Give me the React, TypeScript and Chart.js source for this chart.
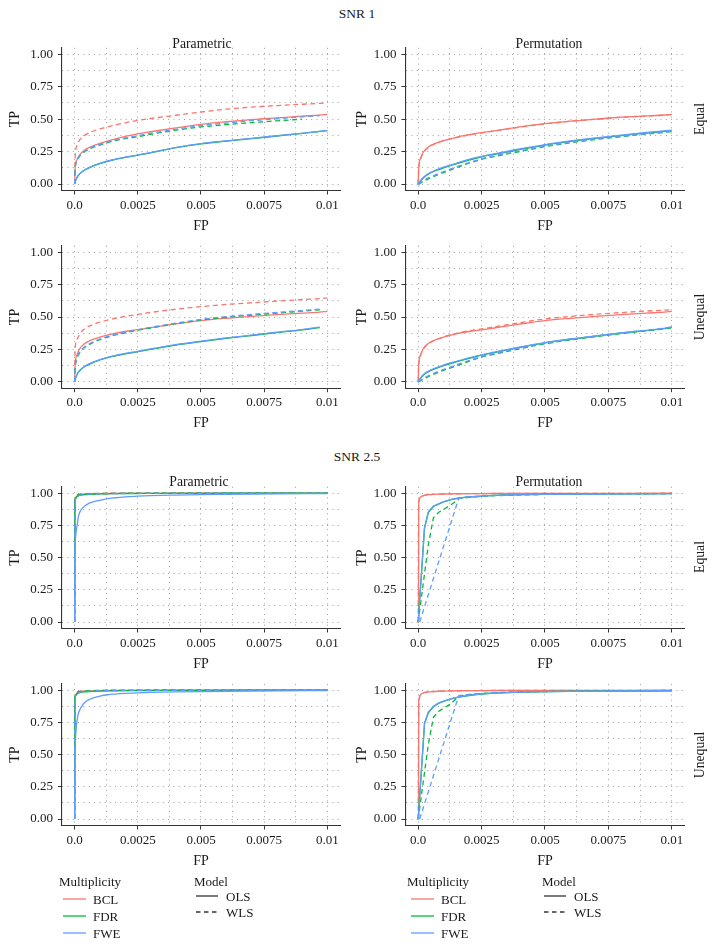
import React, { useEffect, useRef } from 'react';
import { Chart, registerables } from 'chart.js';

Chart.register(...registerables);

const FONT = '"Liberation Serif", "DejaVu Serif", serif';
const TEXT = '#1a1a1a';

// ---------- categories ----------
const MULTIPLICITY = ['BCL', 'FDR', 'FWE'];
const MODELS = ['OLS', 'WLS'];
const MULT_COLORS = ['#F8766D', '#00BA38', '#619CFF'];

// ---------- ticks ----------
const X_TICKS = [0, 0.00125, 0.0025, 0.00375, 0.005, 0.00625, 0.0075, 0.00875, 0.01];
const X_TICK_LABELS = ['0.0', '', '0.0025', '', '0.005', '', '0.0075', '', '0.01'];
const Y_TICKS = [0, 0.125, 0.25, 0.375, 0.5, 0.625, 0.75, 0.875, 1];
const Y_TICK_LABELS = ['0.00', '', '0.25', '', '0.50', '', '0.75', '', '1.00'];

// ---------- SNR 1 data (FP grid + TP per curve) ----------
const FP_SNR1 = [0, 0.00002, 0.0001, 0.0002, 0.0004, 0.0007, 0.001, 0.0015, 0.002, 0.0025, 0.003, 0.004, 0.005, 0.006, 0.007, 0.008, 0.009, 0.0097, 0.01];

const S1_PAR_EQ_BCL_OLS = [0, 0.12, 0.19, 0.225, 0.262, 0.292, 0.313, 0.343, 0.367, 0.387, 0.403, 0.433, 0.46, 0.48, 0.497, 0.51, 0.523, 0.531, 0.536];
const S1_PAR_EQ_BCL_WLS = [0, 0.2, 0.3, 0.34, 0.375, 0.405, 0.425, 0.45, 0.472, 0.49, 0.505, 0.53, 0.555, 0.577, 0.593, 0.605, 0.615, 0.622, 0.626];
const S1_PAR_EQ_FDR_OLS = [0, 0.015, 0.052, 0.078, 0.108, 0.136, 0.158, 0.185, 0.205, 0.222, 0.24, 0.28, 0.31, 0.33, 0.35, 0.37, 0.39, 0.405, 0.412];
const S1_PAR_EQ_FDR_WLS = [0, 0.12, 0.18, 0.215, 0.25, 0.28, 0.3, 0.33, 0.35, 0.365, 0.383, 0.415, 0.44, 0.458, 0.473, 0.487, 0.5, null, null];
const S1_PAR_EQ_FWE_OLS = [0, 0.016, 0.054, 0.08, 0.11, 0.138, 0.16, 0.187, 0.207, 0.224, 0.242, 0.281, 0.311, 0.332, 0.352, 0.372, 0.391, 0.406, 0.414];
const S1_PAR_EQ_FWE_WLS = [0, 0.12, 0.185, 0.22, 0.255, 0.285, 0.305, 0.335, 0.355, 0.372, 0.39, 0.422, 0.45, 0.47, 0.488, 0.503, 0.518, 0.528, null];

const S1_PERM_EQ_BCL_OLS = [0, 0.12, 0.2, 0.245, 0.285, 0.315, 0.335, 0.36, 0.38, 0.396, 0.41, 0.44, 0.465, 0.485, 0.5, 0.515, 0.525, 0.532, 0.537];
const S1_PERM_EQ_BCL_WLS = [0, 0.11, 0.195, 0.24, 0.282, 0.313, 0.333, 0.358, 0.378, 0.394, 0.408, 0.438, 0.463, 0.483, 0.499, 0.514, 0.524, 0.531, 0.536];
const S1_PERM_EQ_FDR_OLS = [0, 0.005, 0.025, 0.047, 0.076, 0.104, 0.125, 0.155, 0.185, 0.21, 0.228, 0.265, 0.3, 0.328, 0.352, 0.373, 0.393, 0.405, 0.41];
const S1_PERM_EQ_FDR_WLS = [0, 0, 0.008, 0.02, 0.04, 0.065, 0.088, 0.125, 0.16, 0.19, 0.212, 0.25, 0.288, 0.318, 0.343, 0.365, 0.385, 0.398, 0.405];
const S1_PERM_EQ_FWE_OLS = [0, 0.006, 0.028, 0.05, 0.08, 0.108, 0.13, 0.16, 0.19, 0.213, 0.232, 0.27, 0.304, 0.332, 0.356, 0.377, 0.397, 0.41, 0.415];
const S1_PERM_EQ_FWE_WLS = [0, 0, 0.01, 0.025, 0.047, 0.073, 0.095, 0.132, 0.165, 0.195, 0.217, 0.255, 0.292, 0.322, 0.347, 0.368, 0.388, 0.4, 0.408];

const S1_PAR_UN_BCL_OLS = [0, 0.13, 0.21, 0.255, 0.295, 0.325, 0.345, 0.37, 0.388, 0.402, 0.418, 0.447, 0.472, 0.49, 0.505, 0.518, 0.53, 0.538, 0.544];
const S1_PAR_UN_BCL_WLS = [0, 0.25, 0.33, 0.37, 0.41, 0.44, 0.46, 0.485, 0.505, 0.52, 0.535, 0.56, 0.58, 0.597, 0.61, 0.622, 0.635, 0.642, 0.648];
const S1_PAR_UN_FDR_OLS = [0, 0.018, 0.058, 0.085, 0.117, 0.146, 0.168, 0.195, 0.215, 0.232, 0.25, 0.283, 0.31, 0.335, 0.357, 0.38, 0.4, 0.418, null];
const S1_PAR_UN_FDR_WLS = [0, 0.1, 0.18, 0.225, 0.265, 0.3, 0.325, 0.355, 0.378, 0.398, 0.415, 0.448, 0.477, 0.498, 0.515, 0.53, 0.545, 0.555, null];
const S1_PAR_UN_FWE_OLS = [0, 0.019, 0.06, 0.088, 0.12, 0.149, 0.171, 0.198, 0.218, 0.235, 0.253, 0.286, 0.313, 0.338, 0.36, 0.383, 0.403, 0.422, null];
const S1_PAR_UN_FWE_WLS = [0, 0.1, 0.185, 0.23, 0.27, 0.305, 0.33, 0.36, 0.382, 0.402, 0.42, 0.452, 0.482, 0.503, 0.52, 0.535, 0.55, 0.56, null];

const S1_PERM_UN_BCL_OLS = [0, 0.13, 0.21, 0.255, 0.295, 0.325, 0.345, 0.37, 0.388, 0.4, 0.415, 0.445, 0.472, 0.49, 0.505, 0.518, 0.53, 0.538, 0.543];
const S1_PERM_UN_BCL_WLS = [0, 0.12, 0.205, 0.252, 0.293, 0.325, 0.347, 0.373, 0.393, 0.408, 0.424, 0.456, 0.485, 0.505, 0.521, 0.534, 0.546, 0.553, 0.557];
const S1_PERM_UN_FDR_OLS = [0, 0.006, 0.028, 0.05, 0.077, 0.103, 0.124, 0.153, 0.18, 0.205, 0.225, 0.265, 0.3, 0.328, 0.352, 0.375, 0.395, 0.41, 0.42];
const S1_PERM_UN_FDR_WLS = [0, 0, 0.008, 0.02, 0.04, 0.065, 0.088, 0.122, 0.158, 0.19, 0.212, 0.255, 0.293, 0.323, 0.348, 0.372, 0.393, 0.408, 0.418];
const S1_PERM_UN_FWE_OLS = [0, 0.007, 0.031, 0.054, 0.082, 0.108, 0.129, 0.158, 0.185, 0.208, 0.228, 0.268, 0.302, 0.33, 0.354, 0.377, 0.397, 0.412, 0.423];
const S1_PERM_UN_FWE_WLS = [0, 0, 0.01, 0.025, 0.046, 0.072, 0.095, 0.13, 0.164, 0.195, 0.218, 0.26, 0.298, 0.328, 0.353, 0.377, 0.398, 0.414, 0.424];

// ---------- SNR 2.5 data ----------
const FP_SNR25 = [0, 0.00001, 0.00003, 0.00006, 0.0001, 0.00015, 0.00025, 0.0004, 0.0006, 0.0008, 0.001, 0.0013, 0.0016, 0.002, 0.0025, 0.003, 0.004, 0.005, 0.006, 0.008, 0.01];

const S2_PAR_EQ_BCL_OLS = [0, 0.9, 0.95, 0.97, 0.98, 0.985, 0.99, 0.993, 0.995, 0.996, 0.997, 0.998, 0.998, 0.999, 0.999, 0.999, 1, 1, 1, 1, 1];
const S2_PAR_EQ_BCL_WLS = [0, 0.93, 0.965, 0.98, 0.988, 0.992, 0.995, 0.997, 0.998, 0.999, 0.999, 1, 1, 1, 1, 1, 1, 1, 1, 1, 1];
const S2_PAR_EQ_FDR_OLS = [0, 0.92, 0.955, 0.968, 0.975, 0.98, 0.985, 0.989, 0.992, 0.994, 0.995, 0.996, 0.997, 0.998, 0.998, 0.999, 0.999, 0.999, 1, 1, 1];
const S2_PAR_EQ_FDR_WLS = [0, 0.93, 0.96, 0.975, 0.982, 0.987, 0.991, 0.994, 0.996, 0.997, 0.998, 0.998, 0.999, 0.999, 0.999, 1, 1, 1, 1, 1, 1];
const S2_PAR_EQ_FWE_OLS = [0, 0.45, 0.63, 0.7, 0.75, 0.82, 0.87, 0.9, 0.925, 0.937, 0.945, 0.958, 0.965, 0.972, 0.977, 0.981, 0.986, 0.99, 0.992, 0.995, 0.997];
const S2_PAR_EQ_FWE_WLS = [0, 0.9, 0.95, 0.965, 0.975, 0.98, 0.986, 0.99, 0.993, 0.995, 0.996, 0.997, 0.998, 0.998, 0.999, 0.999, 0.999, 1, 1, 1, 1];

const S2_PERM_EQ_BCL_OLS = [0, 0.8, 0.94, 0.963, 0.972, 0.978, 0.985, 0.989, 0.991, 0.993, 0.994, 0.995, 0.996, 0.997, 0.997, 0.998, 0.998, 0.999, 0.999, 0.999, 1];
const S2_PERM_EQ_BCL_WLS = [0, 0.78, 0.935, 0.96, 0.97, 0.977, 0.984, 0.988, 0.991, 0.993, 0.994, 0.995, 0.996, 0.997, 0.997, 0.998, 0.998, 0.999, 0.999, 0.999, 1];
const S2_PERM_EQ_FDR_OLS = [0, null, null, null, null, null, 0.73, 0.85, 0.897, 0.916, 0.932, 0.95, 0.962, 0.971, 0.978, 0.983, 0.989, 0.992, 0.994, 0.996, 0.997];
const S2_PERM_EQ_FDR_WLS = [0, null, null, null, null, null, null, 0.6, 0.81, 0.85, 0.875, 0.91, 0.958, 0.968, 0.976, 0.981, 0.987, 0.991, 0.993, 0.995, 0.997];
const S2_PERM_EQ_FWE_OLS = [0, null, null, null, null, null, 0.735, 0.855, 0.9, 0.918, 0.935, 0.952, 0.963, 0.972, 0.978, 0.983, 0.989, 0.992, 0.994, 0.996, 0.997];
const S2_PERM_EQ_FWE_WLS = [null, null, null, 0, null, null, null, null, null, null, null, null, 0.962, 0.971, 0.978, 0.982, 0.988, 0.991, 0.993, 0.995, 0.997];

const S2_PAR_UN_BCL_OLS = [0, 0.9, 0.95, 0.97, 0.98, 0.985, 0.99, 0.993, 0.995, 0.996, 0.997, 0.998, 0.998, 0.999, 0.999, 0.999, 1, 1, 1, 1, 1];
const S2_PAR_UN_BCL_WLS = [0, 0.93, 0.965, 0.98, 0.988, 0.992, 0.995, 0.997, 0.998, 0.999, 0.999, 1, 1, 1, 1, 1, 1, 1, 1, 1, 1];
const S2_PAR_UN_FDR_OLS = [0, 0.92, 0.955, 0.965, 0.972, 0.977, 0.983, 0.987, 0.99, 0.992, 0.994, 0.995, 0.996, 0.997, 0.998, 0.998, 0.999, 0.999, 1, 1, 1];
const S2_PAR_UN_FDR_WLS = [0, 0.93, 0.96, 0.975, 0.982, 0.987, 0.991, 0.994, 0.996, 0.997, 0.998, 0.998, 0.999, 0.999, 0.999, 1, 1, 1, 1, 1, 1];
const S2_PAR_UN_FWE_OLS = [0, 0.4, 0.6, 0.7, 0.77, 0.82, 0.865, 0.905, 0.93, 0.945, 0.955, 0.965, 0.97, 0.975, 0.98, 0.983, 0.987, 0.99, 0.992, 0.995, 0.997];
const S2_PAR_UN_FWE_WLS = [0, 0.9, 0.95, 0.965, 0.975, 0.98, 0.986, 0.99, 0.993, 0.995, 0.996, 0.997, 0.998, 0.998, 0.999, 0.999, 0.999, 1, 1, 1, 1];

const S2_PERM_UN_BCL_OLS = [0, 0.7, 0.92, 0.955, 0.968, 0.975, 0.983, 0.987, 0.99, 0.992, 0.993, 0.995, 0.996, 0.997, 0.997, 0.998, 0.998, 0.999, 0.999, 0.999, 1];
const S2_PERM_UN_BCL_WLS = [0, 0.68, 0.915, 0.952, 0.966, 0.974, 0.982, 0.987, 0.99, 0.992, 0.993, 0.995, 0.996, 0.997, 0.997, 0.998, 0.998, 0.999, 0.999, 0.999, 1];
const S2_PERM_UN_FDR_OLS = [0, null, null, null, null, null, 0.74, 0.825, 0.872, 0.898, 0.913, 0.933, 0.947, 0.959, 0.971, 0.977, 0.985, 0.989, 0.991, 0.994, 0.996];
const S2_PERM_UN_FDR_WLS = [0, null, null, null, null, null, null, 0.58, 0.79, 0.835, 0.86, 0.897, 0.955, 0.965, 0.974, 0.98, 0.986, 0.99, 0.992, 0.995, 0.997];
const S2_PERM_UN_FWE_OLS = [0, null, null, null, null, null, 0.745, 0.83, 0.875, 0.9, 0.915, 0.935, 0.948, 0.96, 0.972, 0.978, 0.985, 0.989, 0.991, 0.994, 0.996];
const S2_PERM_UN_FWE_WLS = [null, null, null, 0, null, null, null, null, null, null, null, null, 0.958, 0.968, 0.976, 0.981, 0.987, 0.99, 0.992, 0.995, 0.997];

// ---------- panel definitions (series order: BCL OLS, BCL WLS, FDR OLS, FDR WLS, FWE OLS, FWE WLS) ----------
type TP = (number | null)[];
type PanelDef = { fp: number[]; tp: TP[]; smooth: boolean; row: number; col: number };

const PANELS: PanelDef[] = [
  { row: 0, col: 0, smooth: true, fp: FP_SNR1, tp: [S1_PAR_EQ_BCL_OLS, S1_PAR_EQ_BCL_WLS, S1_PAR_EQ_FDR_OLS, S1_PAR_EQ_FDR_WLS, S1_PAR_EQ_FWE_OLS, S1_PAR_EQ_FWE_WLS] },
  { row: 0, col: 1, smooth: true, fp: FP_SNR1, tp: [S1_PERM_EQ_BCL_OLS, S1_PERM_EQ_BCL_WLS, S1_PERM_EQ_FDR_OLS, S1_PERM_EQ_FDR_WLS, S1_PERM_EQ_FWE_OLS, S1_PERM_EQ_FWE_WLS] },
  { row: 1, col: 0, smooth: true, fp: FP_SNR1, tp: [S1_PAR_UN_BCL_OLS, S1_PAR_UN_BCL_WLS, S1_PAR_UN_FDR_OLS, S1_PAR_UN_FDR_WLS, S1_PAR_UN_FWE_OLS, S1_PAR_UN_FWE_WLS] },
  { row: 1, col: 1, smooth: true, fp: FP_SNR1, tp: [S1_PERM_UN_BCL_OLS, S1_PERM_UN_BCL_WLS, S1_PERM_UN_FDR_OLS, S1_PERM_UN_FDR_WLS, S1_PERM_UN_FWE_OLS, S1_PERM_UN_FWE_WLS] },
  { row: 2, col: 0, smooth: true, fp: FP_SNR25, tp: [S2_PAR_EQ_BCL_OLS, S2_PAR_EQ_BCL_WLS, S2_PAR_EQ_FDR_OLS, S2_PAR_EQ_FDR_WLS, S2_PAR_EQ_FWE_OLS, S2_PAR_EQ_FWE_WLS] },
  { row: 2, col: 1, smooth: false, fp: FP_SNR25, tp: [S2_PERM_EQ_BCL_OLS, S2_PERM_EQ_BCL_WLS, S2_PERM_EQ_FDR_OLS, S2_PERM_EQ_FDR_WLS, S2_PERM_EQ_FWE_OLS, S2_PERM_EQ_FWE_WLS] },
  { row: 3, col: 0, smooth: true, fp: FP_SNR25, tp: [S2_PAR_UN_BCL_OLS, S2_PAR_UN_BCL_WLS, S2_PAR_UN_FDR_OLS, S2_PAR_UN_FDR_WLS, S2_PAR_UN_FWE_OLS, S2_PAR_UN_FWE_WLS] },
  { row: 3, col: 1, smooth: false, fp: FP_SNR25, tp: [S2_PERM_UN_BCL_OLS, S2_PERM_UN_BCL_WLS, S2_PERM_UN_FDR_OLS, S2_PERM_UN_FDR_WLS, S2_PERM_UN_FWE_OLS, S2_PERM_UN_FWE_WLS] },
];

// ---------- layout (page pixels) ----------
const ROWS = [
  { top: 47.5, bottom: 190.5 },
  { top: 245.8, bottom: 388.2 },
  { top: 486, bottom: 628.5 },
  { top: 683.5, bottom: 825.5 },
];
const COLS = [
  { left: 0, width: 357, axisW: 62, plotRight: 340, titlePad: 7 },
  { left: 352, width: 363, axisW: 53.5, plotRight: 684.5, titlePad: 2 },
];
const X_AXIS_H = 48;
const GRID_COLOR = '#9e9e9e';

function Panel({ def }: { def: PanelDef }) {
  const ref = useRef<HTMLCanvasElement | null>(null);
  const row = ROWS[def.row];
  const col = COLS[def.col];
  const top = Math.floor(row.top) - 12;
  const height = Math.ceil(row.bottom - top + X_AXIS_H + 2);

  useEffect(() => {
    if (!ref.current) return;
    const datasets: any[] = [];
    // reverse so that FWE is drawn on top (Chart.js draws dataset 0 last)
    for (let k = def.tp.length - 1; k >= 0; k--) {
      const mi = Math.floor(k / 2);
      const model = MODELS[k % 2];
      const tp = def.tp[k];
      const pts = def.fp
        .map((x, i) => ({ x, y: tp[i] }))
        .filter((p) => p.y !== null && p.y !== undefined);
      datasets.push({
        label: MULTIPLICITY[mi] + ' ' + model,
        data: pts,
        borderColor: MULT_COLORS[mi],
        backgroundColor: MULT_COLORS[mi],
        borderWidth: 1.3,
        borderDash: model === 'WLS' ? [5, 3.5] : [],
        pointRadius: 0,
        fill: false,
        tension: 0,
        cubicInterpolationMode: def.smooth ? 'monotone' : 'default',
      });
    }
    const tickFont = { family: FONT, size: 13 };
    const titleFont = { family: FONT, size: 14 };
    const gridCfg = {
      color: GRID_COLOR,
      lineWidth: 1,
      drawTicks: true,
      tickLength: 4,
      tickWidth: 1,
      tickColor: (ctx: any) => (ctx.index % 2 === 0 ? '#333' : 'rgba(0,0,0,0)'),
    };
    const chart = new Chart(ref.current, {
      type: 'line',
      data: { datasets },
      options: {
        responsive: false,
        maintainAspectRatio: false,
        animation: false,
        events: [],
        layout: {
          padding: {
            left: 0,
            top: row.top - top,
            right: col.width - (col.plotRight - col.left),
            bottom: height - (row.bottom - top) - X_AXIS_H,
          },
        },
        plugins: { legend: { display: false }, tooltip: { enabled: false }, title: { display: false } },
        scales: {
          x: {
            type: 'linear',
            min: -0.0005,
            max: 0.0105,
            bounds: 'data',
            afterBuildTicks: (s: any) => {
              s.ticks = X_TICKS.map((v) => ({ value: v }));
            },
            afterFit: (s: any) => {
              s.height = X_AXIS_H;
            },
            ticks: {
              autoSkip: false,
              maxRotation: 0,
              minRotation: 0,
              padding: 3,
              color: TEXT,
              font: tickFont,
              callback: (_v: any, i: number) => X_TICK_LABELS[i],
            },
            grid: gridCfg,
            border: { display: true, color: '#333', width: 1.1, dash: [1, 4.3] },
            title: { display: true, text: 'FP', color: TEXT, font: titleFont, padding: { top: 0, bottom: 4 } },
          },
          y: {
            type: 'linear',
            min: -0.05,
            max: 1.05,
            bounds: 'data',
            afterBuildTicks: (s: any) => {
              s.ticks = Y_TICKS.map((v) => ({ value: v }));
            },
            afterFit: (s: any) => {
              s.width = col.axisW;
            },
            ticks: {
              autoSkip: false,
              padding: 5,
              color: TEXT,
              font: tickFont,
              callback: (_v: any, i: number) => Y_TICK_LABELS[i],
            },
            grid: gridCfg,
            border: { display: true, color: '#333', width: 1.1, dash: [1, 4.3] },
            title: { display: true, text: 'TP', color: TEXT, font: titleFont, padding: { top: col.titlePad, bottom: 0 } },
          },
        },
      } as any,
    });
    return () => chart.destroy();
  }, []);

  return (
    <canvas
      ref={ref}
      width={col.width}
      height={height}
      style={{ position: 'absolute', left: col.left, top, width: col.width, height }}
    />
  );
}

type Label = { text: string; x: number; y: number; size: number; rotate?: boolean };

const LABELS: Label[] = [
  { text: 'SNR 1', x: 357, y: 14, size: 13.5 },
  { text: 'Parametric', x: 202, y: 44, size: 13.7 },
  { text: 'Permutation', x: 549, y: 44, size: 13.7 },
  { text: 'Equal', x: 700, y: 119, size: 13.7, rotate: true },
  { text: 'Unequal', x: 700, y: 317, size: 13.7, rotate: true },
  { text: 'SNR 2.5', x: 357, y: 457, size: 13.5 },
  { text: 'Parametric', x: 199, y: 482, size: 13.7 },
  { text: 'Permutation', x: 549, y: 482, size: 13.7 },
  { text: 'Equal', x: 700, y: 557, size: 13.7, rotate: true },
  { text: 'Unequal', x: 700, y: 755, size: 13.7, rotate: true },
];

const LEGEND_X = [59, 407];
const LEGEND_MULT_Y = [899, 916, 933];
const LEGEND_MODEL_Y = [896, 912];
const LEGEND_TITLE_Y = 881;

function LegendBlock({ x }: { x: number }) {
  const textStyle = (lx: number, ly: number): React.CSSProperties => ({
    position: 'absolute',
    left: lx,
    top: ly,
    transform: 'translateY(-50%)',
    fontFamily: FONT,
    fontSize: 13,
    lineHeight: 1,
    color: TEXT,
    whiteSpace: 'nowrap',
  });
  const mx = x + 135;
  return (
    <>
      <div style={textStyle(x, LEGEND_TITLE_Y)}>Multiplicity</div>
      {MULTIPLICITY.map((m, i) => (
        <React.Fragment key={m}>
          <svg width={23} height={4} style={{ position: 'absolute', left: x + 4, top: LEGEND_MULT_Y[i] - 2 }}>
            <line x1={0} y1={2} x2={23} y2={2} stroke={MULT_COLORS[i]} strokeWidth={1.3} />
          </svg>
          <div style={textStyle(x + 34, LEGEND_MULT_Y[i])}>{m}</div>
        </React.Fragment>
      ))}
      <div style={textStyle(mx, LEGEND_TITLE_Y)}>Model</div>
      {MODELS.map((m, i) => (
        <React.Fragment key={m}>
          <svg width={22} height={4} style={{ position: 'absolute', left: mx + 2, top: LEGEND_MODEL_Y[i] - 2 }}>
            <line
              x1={0}
              y1={2}
              x2={22}
              y2={2}
              stroke="#333"
              strokeWidth={1.3}
              strokeDasharray={m === 'WLS' ? '4.5 3.5' : undefined}
            />
          </svg>
          <div style={textStyle(mx + 32, LEGEND_MODEL_Y[i])}>{m}</div>
        </React.Fragment>
      ))}
    </>
  );
}

export default function App() {
  return (
    <div
      style={{
        position: 'absolute',
        left: 0,
        top: 0,
        width: 715,
        height: 945,
        overflow: 'hidden',
        background: '#fff',
      }}
    >
      {PANELS.map((p, i) => (
        <Panel key={i} def={p} />
      ))}
      {LABELS.map((l, i) => (
        <div
          key={i}
          style={{
            position: 'absolute',
            left: l.x,
            top: l.y,
            transform: l.rotate ? 'translate(-50%,-50%) rotate(-90deg)' : 'translate(-50%,-50%)',
            fontFamily: FONT,
            fontSize: l.size,
            lineHeight: 1,
            color: TEXT,
            whiteSpace: 'nowrap',
          }}
        >
          {l.text}
        </div>
      ))}
      {LEGEND_X.map((x) => (
        <LegendBlock key={x} x={x} />
      ))}
    </div>
  );
}
